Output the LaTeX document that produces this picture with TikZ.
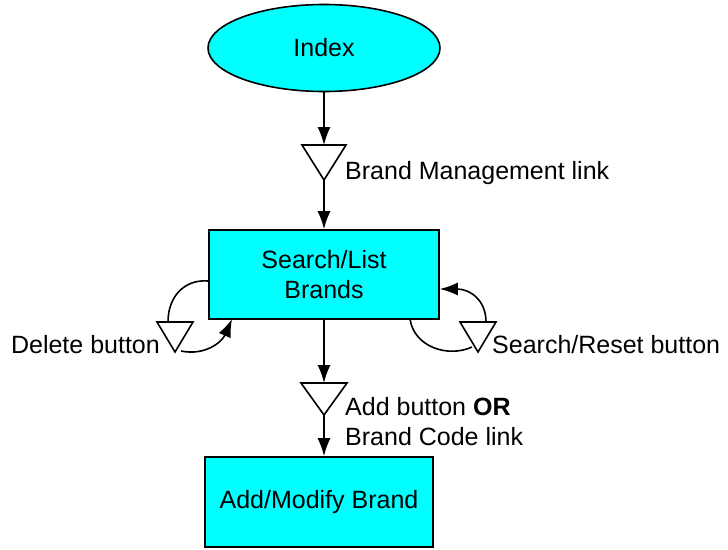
\documentclass[tikz,border=0pt]{standalone}
\usepackage{fontspec}
\setmainfont{Liberation Sans}
\usetikzlibrary{arrows.meta,shapes.geometric}
\definecolor{boxcyan}{HTML}{00FFFF}
\tikzset{
  every node/.style={font=\fontsize{25}{30}\selectfont},
  line/.style={line width=1.6pt,draw=black},
  arr/.style={line, -{Latex[length=18pt,width=13pt]}},
  box/.style={draw=black,line width=1.6pt,fill=boxcyan,align=center,inner sep=0pt},
  tri/.style={draw=black,line width=1.6pt,fill=white,line join=miter},
  lbl/.style={inner sep=0pt,align=left}
}
\begin{document}
\begin{tikzpicture}[x=1pt,y=-1pt]
\useasboundingbox (0,0) rectangle (728,549);
% nodes
\node[box,ellipse,minimum width=232,minimum height=87] (index) at (324,48) {Index};
\node[box,minimum width=230,minimum height=89] (search) at (324,274.5) {Search/List\\Brands};
\node[box,minimum width=228,minimum height=90] (add) at (319,502) {Add/Modify Brand};
% triangle anchor coordinates
\coordinate (t1) at (324,145); \coordinate (t1b) at (324,180);
\coordinate (t2) at (175,322); \coordinate (t2b) at (175,352);
\coordinate (t3) at (324,383); \coordinate (t3b) at (324,415);
\coordinate (t4) at (478,322); \coordinate (t4b) at (478,352);
% triangles
\draw[tri] (t1) ++(-22,0) -- ++(44,0) -- (t1b) -- cycle;
\draw[tri] (t2) ++(-18,0) -- ++(36,0) -- (t2b) -- cycle;
\draw[tri] (t3) ++(-23,0) -- ++(46,0) -- (t3b) -- cycle;
\draw[tri] (t4) ++(-18,0) -- ++(36,0) -- (t4b) -- cycle;
% connectors
\draw[arr] (index.south) -- (t1);
\draw[arr] (t1b) -- (search.north);
\draw[arr] (search.south) -- (t3);
\draw[arr] (t3b) -- (t3b |- add.north);
% delete loop
\coordinate (d1) at (search.west |- 0,281);
\coordinate (d2) at (168,322);
\coordinate (d3) at (181,351);
\coordinate (d4) at (232,319);
\draw[line] (d1) .. controls (185,279) and (168,296) .. (d2);
\draw[arr] (d3) .. controls (205,356) and (222,342) .. (d4);
% search/reset loop
\coordinate (s1) at (410,319);
\coordinate (s2) at (472,347);
\coordinate (s3) at (486,322);
\coordinate (s4) at (search.east |- 0,289);
\draw[line] (s1) .. controls (414,347) and (448,358) .. (s2);
\draw[arr] (s3) .. controls (486,300) and (470,289) .. (s4);
% labels
\node[lbl,anchor=west] (l1) at (345,173) {Brand Management link};
\node[lbl,anchor=east] (l2) at (160,345) {Delete button};
\node[lbl,anchor=west] (l4) at (492,345) {Search/Reset button};
\node[lbl,anchor=west] (l3) at (345,421.5) {Add button \textbf{OR}\\Brand Code link};
\end{tikzpicture}
\end{document}
